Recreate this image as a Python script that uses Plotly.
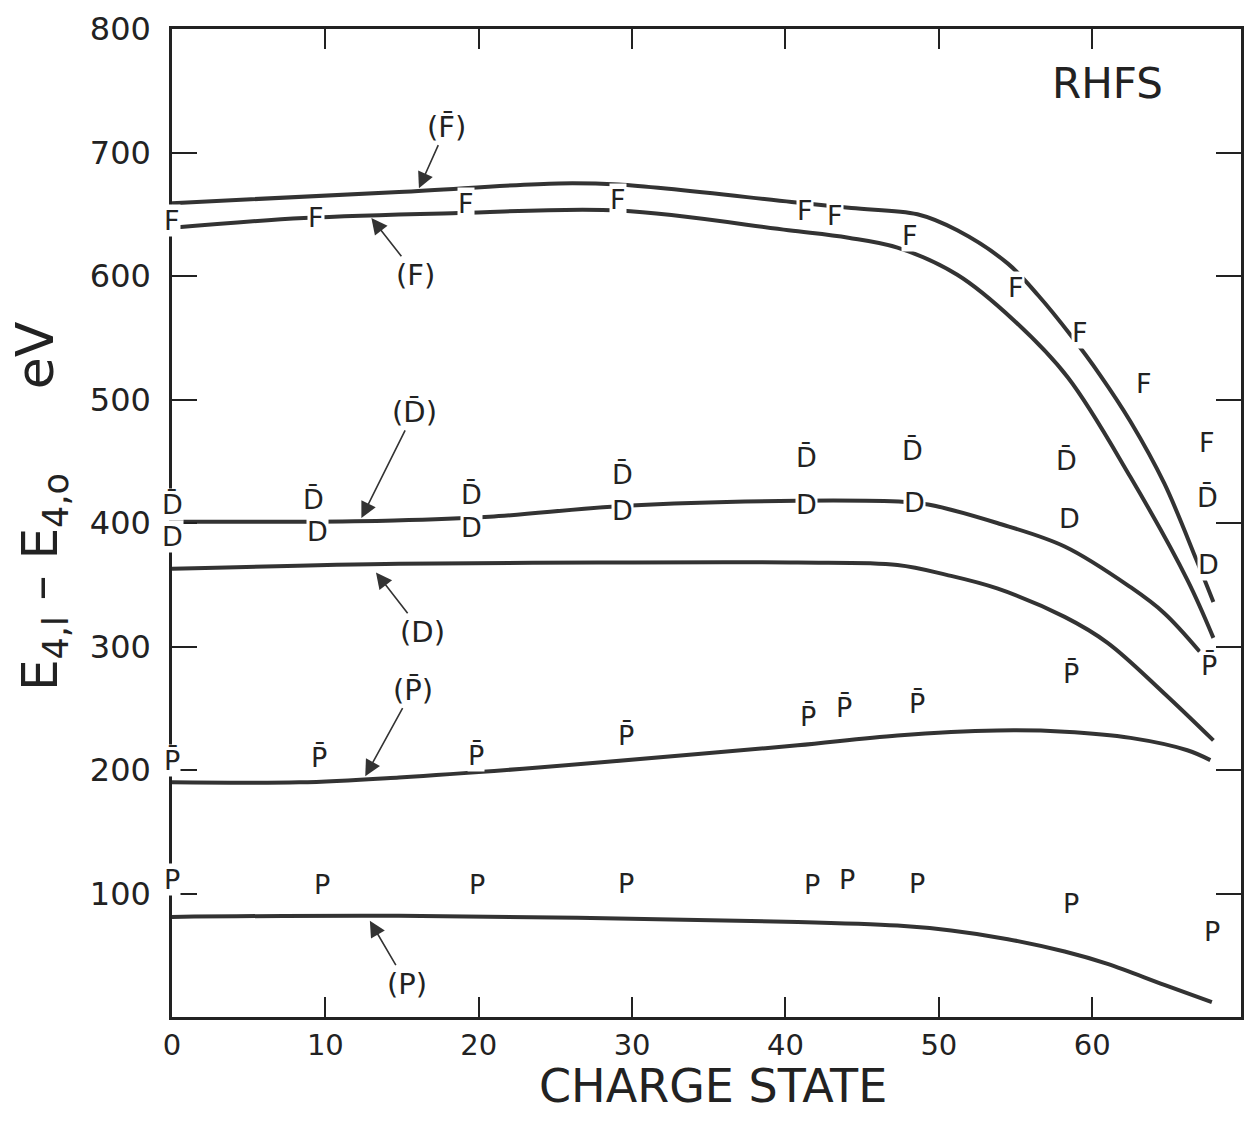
import plotly.graph_objects as go

# ---------------- data ----------------
# curves
fbar_x = [0, 14.8, 25.2, 29.1, 40.4, 44.3, 48.6, 51.2, 54.5, 56.5, 58.6, 60.5, 62.5, 64.7, 66.8, 67.9]
fbar_y = [659, 668, 675, 674, 660, 655, 650, 637, 610, 584, 552, 520, 482, 432, 370, 336]

f_x = [0, 8.6, 18.7, 29.2, 40.2, 44.1, 47.3, 51.2, 54.9, 58.4, 62.5, 66.2, 67.9]
f_y = [639, 647, 651, 653, 637, 631, 623, 601, 564, 518, 437, 354, 307]

dbar_x = [0, 8.3, 14.5, 20.7, 29.6, 40.8, 47.8, 49.3, 53.8, 58.2, 62.5, 64.7, 67.0]
dbar_y = [401, 401, 402, 405, 414, 418, 417, 415, 400, 381, 348, 327, 296]

d_x = [0, 14.8, 27.8, 40.8, 47.3, 50.5, 53.8, 58.2, 61.0, 64.7, 67.9]
d_y = [363, 367, 368, 368, 366, 358, 347, 324, 303, 262, 224]

pbar_x = [0, 8.3, 14.8, 23.9, 34.3, 40.8, 47.3, 53.8, 58.2, 62.5, 66.2, 67.7]
pbar_y = [190, 190, 194, 202, 213, 220, 228, 232, 231, 226, 216, 208]

p_x = [0, 14.8, 40.8, 47.3, 50.8, 54.5, 58.2, 61.0, 64.7, 67.8]
p_y = [81, 82, 77, 74, 70, 63, 53, 43, 26, 12]

# letter markers
F_pts_x = [0, 9.4, 19.2, 29.1, 41.3, 43.2, 48.1, 55.0, 59.2, 63.4, 67.5]
F_pts_y = [645, 647, 659, 662, 653, 649, 633, 591, 554, 513, 465]

Dbar_pts_x = [0, 9.2, 19.5, 29.4, 41.4, 48.3, 58.3, 67.5]
Dbar_pts_y = [415, 419, 423, 439, 453, 459, 451, 421]

D_pts_x = [0, 9.5, 19.5, 29.4, 41.4, 48.4, 58.5, 67.6]
D_pts_y = [389, 393, 396, 410, 415, 417, 404, 366]

Pbar_pts_x = [0, 9.6, 19.8, 29.6, 41.5, 43.8, 48.6, 58.6, 67.6]
Pbar_pts_y = [208, 210, 212, 228, 243, 251, 254, 278, 285]

P_pts_x = [0, 9.8, 19.9, 29.6, 41.7, 44.0, 48.6, 58.6, 67.8]
P_pts_y = [111, 107, 107, 108, 107, 111, 108, 92, 69]

# curve labels with arrows: text, label position, arrow tip
curve_labels = ["(F\u0304)", "(F)", "(D\u0304)", "(D)", "(P\u0304)", "(P)"]
label_x = [17.9, 15.9, 15.8, 16.3, 15.7, 15.3]
label_y = [721, 601, 490, 312, 265, 27]
tip_x = [16.1, 13.0, 12.35, 13.3, 12.6, 12.9]
tip_y = [671, 647, 404, 360, 195, 78]

x_ticks = [0, 10, 20, 30, 40, 50, 60]
y_ticks = [100, 200, 300, 400, 500, 600, 700, 800]

# ---------------- figure ----------------
FONT = "DejaVu Sans"
LINE = "#333333"
INK = "#222222"

fig = go.Figure()
for xs, ys in [(fbar_x, fbar_y), (f_x, f_y), (dbar_x, dbar_y),
               (d_x, d_y), (pbar_x, pbar_y), (p_x, p_y)]:
    fig.add_trace(go.Scatter(x=xs, y=ys, mode="lines",
                             line=dict(color=LINE, width=4, shape="spline", smoothing=1.0),
                             hoverinfo="skip", showlegend=False))

ann = []
def letter(x, y, t):
    ann.append(dict(x=x, y=y, xref="x", yref="y", text=t, showarrow=False,
                    xanchor="center", yanchor="middle",
                    font=dict(family=FONT, size=27, color=INK),
                    bgcolor="white", borderpad=0))

for x, y in zip(F_pts_x, F_pts_y):
    letter(x, y, "F")
for x, y in zip(Dbar_pts_x, Dbar_pts_y):
    letter(x, y, "D\u0304")
for x, y in zip(D_pts_x, D_pts_y):
    letter(x, y, "D")
for x, y in zip(Pbar_pts_x, Pbar_pts_y):
    letter(x, y, "P\u0304")
for x, y in zip(P_pts_x, P_pts_y):
    letter(x, y, "P")

for t, lx, ly, tx, ty in zip(curve_labels, label_x, label_y, tip_x, tip_y):
    ann.append(dict(x=tx, y=ty, xref="x", yref="y", ax=lx, ay=ly, axref="x", ayref="y",
                    text=t, showarrow=True, arrowhead=2, arrowsize=2, arrowwidth=1.6,
                    arrowcolor=LINE, font=dict(family=FONT, size=29, color=INK)))

def paper_text(x, y, t, size, angle=0):
    ann.append(dict(x=x, y=y, xref="paper", yref="paper", text=t, showarrow=False,
                    xanchor="center", yanchor="middle", textangle=angle,
                    font=dict(family=FONT, size=size, color=INK)))

paper_text(0.875, 0.945, "RHFS", 42)
paper_text(0.506, -0.07, "CHARGE STATE", 46)
paper_text(-0.12, 0.44, "E<sub>4,l</sub> \u2013 E<sub>4,o</sub>", 50, -90)
paper_text(-0.128, 0.67, "eV", 52, -90)

fig.update_layout(
    width=1252, height=1125,
    margin=dict(l=172, r=8, t=29, b=108),
    paper_bgcolor="white", plot_bgcolor="white",
    annotations=ann,
    xaxis=dict(range=[0, 69.7], tickvals=x_ticks, ticks="inside", ticklen=20, tickwidth=2,
               tickcolor=INK, showline=True, linewidth=2.5, linecolor=INK, mirror="ticks",
               showgrid=False, zeroline=False, ticklabelstandoff=0,
               tickfont=dict(family=FONT, size=29, color=INK)),
    yaxis=dict(range=[0, 800], tickvals=y_ticks, ticks="inside", ticklen=25, tickwidth=2,
               tickcolor=INK, showline=True, linewidth=2.5, linecolor=INK, mirror="ticks",
               showgrid=False, zeroline=False, ticklabelstandoff=12,
               tickfont=dict(family=FONT, size=32, color=INK)),
)

fig.write_html("out.html")
